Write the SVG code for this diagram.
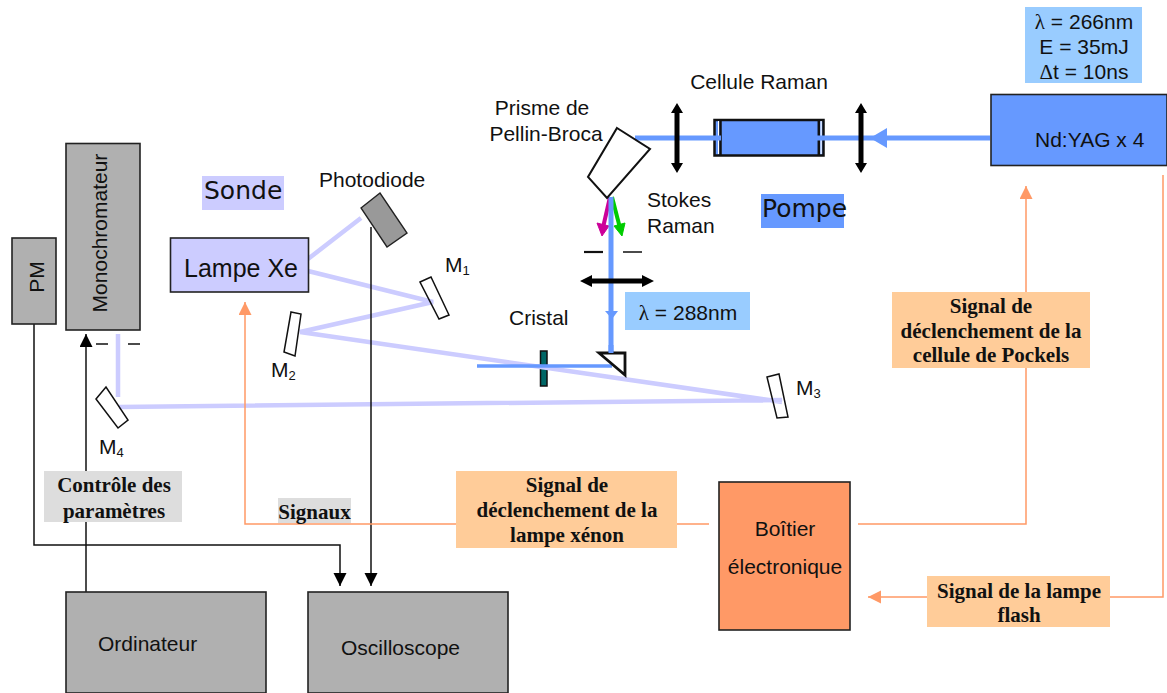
<svg xmlns="http://www.w3.org/2000/svg" width="1167" height="693" viewBox="0 0 1167 693">
<style>
text{font-family:"Liberation Sans",Arial,sans-serif;font-size:21px;fill:#111}
.b{font-family:"Liberation Serif","Times New Roman",serif;font-weight:bold;font-size:21px}
.h{font-family:"DejaVu Sans",sans-serif;font-size:25px}
.g{font-family:"Liberation Serif","DejaVu Serif",serif}
.m{text-anchor:middle}
.box{stroke:#222;stroke-width:1.6}
.gray{fill:#b0b0b0}
.mir{fill:none;stroke:#111;stroke-width:1.5}
.s{stroke:#ccccff;stroke-width:4.5;fill:none}
.p{stroke:#6699ff;stroke-width:5;fill:none}
.k{stroke:#111;stroke-width:1.5;fill:none}
.o{stroke:#ff9966;stroke-width:1.5;fill:none}
.l{stroke:#000;stroke-width:5;fill:none}
.sub{font-size:13px}
</style>
<defs>
<marker id="ak" markerUnits="userSpaceOnUse" markerWidth="14" markerHeight="14" refX="13" refY="6.5" orient="auto"><path d="M0 0L13 6.5L0 13Z" fill="#000"/></marker>
<marker id="ao" markerUnits="userSpaceOnUse" markerWidth="14" markerHeight="14" refX="13" refY="6.5" orient="auto"><path d="M0 0L13 6.5L0 13Z" fill="#ff9966"/></marker>
</defs>

<g id="labels-bg">
<rect x="1025" y="7" width="117" height="76" fill="#99ccff"/>
<rect x="202" y="176" width="82" height="34" fill="#ccccff"/>
<rect x="761" y="194" width="83" height="34" fill="#6699ff"/>
<rect x="625" y="292" width="125" height="38" fill="#99ccff"/>
</g>

<g id="cristal"><rect x="540.500" y="351" width="6.500" height="35" fill="#006666" stroke="#111" stroke-width="1.500"/></g>

<g id="M1"><path fill="#fff" d="M420 282L431 277L449 315L439 319Z"/></g>
<g id="M2"><path fill="#fff" d="M291 312L301 314L295 356L284 352Z"/></g>
<g id="M3"><path fill="#fff" d="M767 377L779 374L788 417L777 418Z"/></g>
<g id="M4"><path fill="#fff" d="M96 399L106 387L128 420L118 428Z"/></g>

<g id="connectors">
<path class="s" d="M308 259L361 218M308 271L433 302L300 332L782 402M118 334V397M119 407L782 400"/>
<path class="p" d="M477 366H612" style="stroke-width:3.500"/>
<path d="M610 197L602 232" stroke="#cc0099" stroke-width="4"/>
<path d="M597 223L602 236L609 226Z" fill="#cc0099" stroke="#cc0099"/>
<path d="M612 197L621 232" stroke="#00cc00" stroke-width="4"/>
<path d="M614 226L622 236L625 223Z" fill="#00cc00" stroke="#00cc00"/>
<path class="p" d="M611 197V353"/>
<path d="M612 319L605 311H618Z" fill="#6699ff"/>
<path d="M870 138L887 128V148Z" fill="#6699ff"/>
<path class="k" d="M34 322V545H340V586" marker-end="url(#ak)"/>
<path class="k" d="M86 597V334" marker-end="url(#ak)"/>
<path class="k" d="M371 227V586" marker-end="url(#ak)"/>
<path class="o" d="M709 524H245V302" marker-end="url(#ao)"/>
<path class="o" d="M858 524H1026V186" marker-end="url(#ao)"/>
<path class="o" d="M1163 175V597H868" marker-end="url(#ao)"/>
<path d="M96 344H108M128 344H140M623 252H642" stroke="#111" stroke-width="1.600" fill="none"/>
<path d="M584 252H603" stroke="#111" stroke-width="2.200" fill="none"/>
</g>

<g id="mirror-frames"><path class="mir" d="M420 282L431 277L449 315L439 319ZM291 312L301 314L295 356L284 352ZM767 377L779 374L788 417L777 418ZM96 399L106 387L128 420L118 428Z"/></g>

<g id="cellule"><rect x="714.500" y="120" width="109" height="35.500" fill="#6699ff" stroke="#111" stroke-width="2.500"/><rect x="718" y="121" width="1.200" height="33" fill="#fff"/><rect x="820.500" y="121" width="1.200" height="33" fill="#fff"/><path d="M720.500 120V156M818.800 120V156" stroke="#111" stroke-width="2.500"/><path class="p" d="M635 138H721M817 138H990"/></g>
<g id="lens1"><path class="l" d="M677 111V165"/><path d="M677 103L671 113H683ZM677 173L671 163H683Z"/></g>
<g id="lens2"><path class="l" d="M861 111V165"/><path d="M861 103L855 113H867ZM861 173L855 163H867Z"/></g>
<g id="lens3"><path class="l" d="M590 281H646"/><path d="M580 281L592 275V287ZM654 281L642 275V287Z"/></g>

<g id="prisme"><path d="M617 128L650 149L607 198L588 177Z" fill="#fff" stroke="#111" stroke-width="2"/></g>
<g id="coin"><path d="M599 353H625V375Z" fill="#fff" stroke="#111" stroke-width="2.800"/><path class="p" d="M611 345V353"/></g>
<g id="photodiode"><path d="M361 208L380 193L407 233L387 247Z" fill="#999" stroke="#222" stroke-width="1.400"/></g>

<g id="pm"><rect class="box gray" x="12" y="238" width="44" height="86"/><text transform="translate(44 277) rotate(-90)" class="m">PM</text></g>
<g id="monochromateur"><rect class="box gray" x="66" y="143.500" width="74" height="186.500"/><text transform="translate(107 233) rotate(-90)" class="m">Monochromateur</text></g>
<g id="lampe"><rect class="box" fill="#ccccff" x="170.500" y="238" width="138" height="54"/><text x="241" y="277" class="m" style="font-size:25px">Lampe Xe</text></g>
<g id="yag"><rect class="box" fill="#6699ff" x="991" y="94.500" width="176" height="71"/><text x="1035" y="147">Nd:YAG x 4</text></g>
<g id="ordinateur"><rect class="box gray" x="66" y="592" width="200" height="101"/><text x="98" y="651">Ordinateur</text></g>
<g id="oscilloscope"><rect class="box gray" x="308" y="592" width="200" height="101"/><text x="341" y="655">Oscilloscope</text></g>
<g id="boitier"><rect class="box" fill="#ff9966" x="719" y="482" width="131" height="148"/><text x="785" y="536" class="m">Boîtier</text><text x="785" y="574" class="m">électronique</text></g>

<g id="controle"><rect x="44" y="471" width="138" height="51" fill="#dddddd"/><text x="114" y="492" class="b m">Contrôle des</text><text x="114" y="518" class="b m">paramètres</text></g>
<g id="signaux"><rect x="278" y="498" width="73" height="25" fill="#dddddd"/><text x="314.500" y="519" class="b m">Signaux</text></g>
<g id="sig-xenon"><rect x="456" y="471" width="221" height="77" fill="#ffcc99"/><text x="567" y="492" class="b m">Signal de</text><text x="567" y="517" class="b m">déclenchement de la</text><text x="567" y="542" class="b m">lampe xénon</text></g>
<g id="sig-pockels"><rect x="892" y="292" width="198" height="76" fill="#ffcc99"/><text x="991" y="313" class="b m">Signal de</text><text x="991" y="338" class="b m">déclenchement de la</text><text x="991" y="362" class="b m">cellule de Pockels</text></g>
<g id="sig-flash"><rect x="927" y="576" width="183" height="51" fill="#ffcc99"/><text x="1019" y="598" class="b m">Signal de la lampe</text><text x="1019" y="622" class="b m">flash</text></g>

<g id="texts">
<text x="1084" y="29" class="m"><tspan class="g">λ</tspan> = 266nm</text>
<text x="1084" y="54" class="m">E = 35mJ</text>
<text x="1084" y="79" class="m"><tspan class="g">Δ</tspan>t = 10ns</text>
<text x="759" y="89" class="m">Cellule Raman</text>
<text x="542" y="115" class="m">Prisme de</text>
<text x="546" y="141" class="m">Pellin-Broca</text>
<text x="647" y="207">Stokes</text>
<text x="647" y="233">Raman</text>
<text x="688" y="320" class="m"><tspan class="g">λ</tspan> = 288nm</text>
<text x="509" y="325">Cristal</text>
<text x="319" y="187">Photodiode</text>
<text class="h" x="204" y="199">Sonde</text>
<text class="h" x="762" y="217">Pompe</text>
<text x="445" y="272">M<tspan class="sub" dy="3">1</tspan></text>
<text x="271" y="377">M<tspan class="sub" dy="3">2</tspan></text>
<text x="796" y="395">M<tspan class="sub" dy="3">3</tspan></text>
<text x="99" y="454">M<tspan class="sub" dy="3">4</tspan></text>
</g>
</svg>
